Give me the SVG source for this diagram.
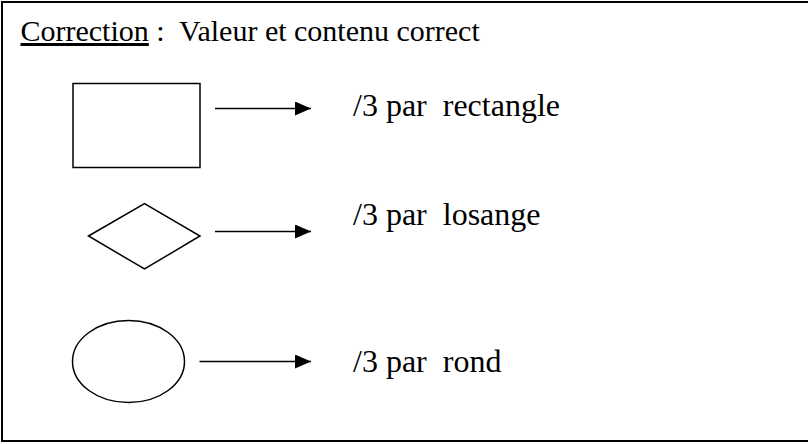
<svg xmlns="http://www.w3.org/2000/svg" width="808" height="444" viewBox="0 0 808 444">
<style>
.lbl{font-size:32px}
.shape{fill:#fff;stroke:#000;stroke-width:1.5}
.conn{stroke:#000;stroke-width:1.5;fill:none}
</style>
<defs>
<marker id="ah" viewBox="0 0 16 14" refX="16" refY="7" markerWidth="16" markerHeight="14" markerUnits="userSpaceOnUse" orient="auto">
<path d="M0,0 L16,7 L0,14 Z" fill="#000"/>
</marker>
</defs>
<rect width="808" height="444" fill="#fff"/>
<rect id="frame" x="2" y="2" width="820" height="439" fill="none" stroke="#000" stroke-width="2"/>
<g id="title" font-family="Liberation Serif, Times New Roman, DejaVu Serif, serif" fill="#000">
<text x="20.5" y="41" font-size="30" xml:space="preserve"><tspan text-decoration="underline">Correction</tspan> :  Valeur et contenu correct</text>
</g>
<g id="rectangle"><rect class="shape" x="73" y="83.5" width="127" height="84"/></g>
<g id="losange"><polygon class="shape" points="88.5,236 144.5,203.5 200,236 144.5,269"/></g>
<g id="rond"><ellipse class="shape" cx="128.5" cy="361.5" rx="56" ry="41"/></g>
<g id="connectors">
<line class="conn" x1="215" y1="108.5" x2="311" y2="108.5" marker-end="url(#ah)"/>
<line class="conn" x1="215" y1="231.5" x2="311" y2="231.5" marker-end="url(#ah)"/>
<line class="conn" x1="199.5" y1="361.5" x2="311" y2="361.5" marker-end="url(#ah)"/>
</g>
<g id="labels" font-family="Liberation Serif, Times New Roman, DejaVu Serif, serif" fill="#000">
<text class="lbl" x="353" y="116" xml:space="preserve">/3 par  rectangle</text>
<text class="lbl" x="353" y="225" xml:space="preserve">/3 par  losange</text>
<text class="lbl" x="353" y="371.5" xml:space="preserve">/3 par  rond</text>
</g>
</svg>
